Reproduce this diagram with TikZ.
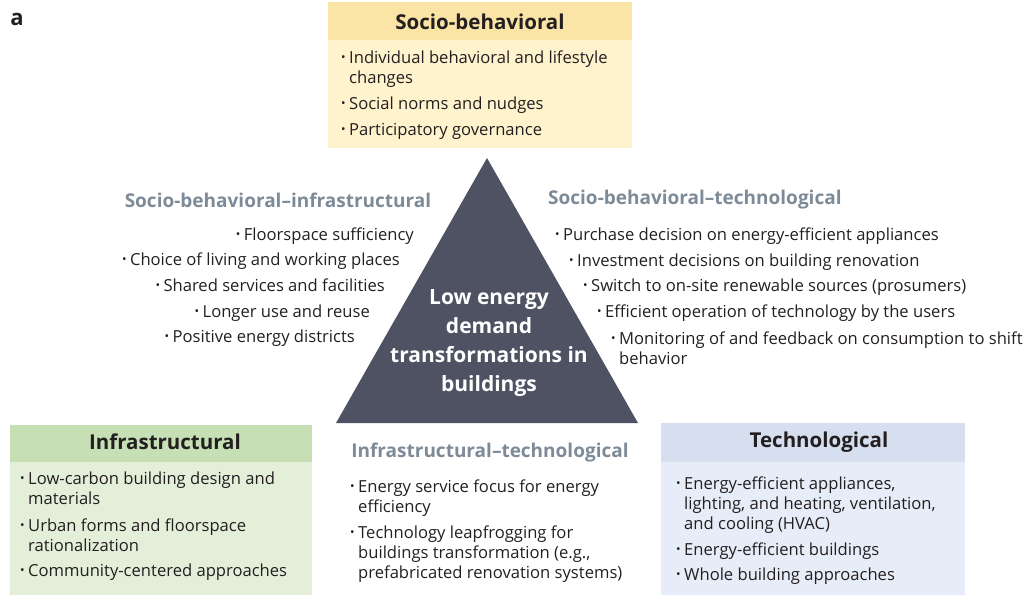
\documentclass[tikz,border=0pt]{standalone}
\usepackage{fontspec}
\setmainfont{Open Sans}
\definecolor{yhead}{HTML}{FBE5A6}
\definecolor{ybody}{HTML}{FEF3CD}
\definecolor{ghead}{HTML}{C6DFB5}
\definecolor{gbody}{HTML}{E3EFD9}
\definecolor{bhead}{HTML}{D6DFEF}
\definecolor{bbody}{HTML}{E7EDF8}
\definecolor{tri}{HTML}{4F5262}
\definecolor{subhead}{HTML}{7D8A97}
\definecolor{txt}{HTML}{231F20}
\newcommand\bu{\makebox[8pt][l]{\raisebox{0.12ex}{\fontsize{12}{12}\selectfont\textbullet}}}
\newcommand\ind{\hspace*{8pt}}
\tikzset{
  bl/.style={anchor=base west, inner sep=0pt, align=left, text=txt, font=\fontsize{16.6}{20}\selectfont},
  br/.style={anchor=base east, inner sep=0pt, align=left, text=txt, font=\fontsize{16.6}{20}\selectfont},
  boxtitle/.style={inner sep=0pt, text=txt, font=\fontsize{20.5}{24}\selectfont\bfseries},
  subtitle/.style={inner sep=0pt, text=subhead, font=\fontsize{19}{24}\selectfont\bfseries},
}
\begin{document}
\begin{tikzpicture}[x=1pt,y=-1pt]
\useasboundingbox (0,0) rectangle (1030,597);
% label a
\node[inner sep=0pt, font=\fontsize{22}{24}\selectfont\bfseries, text=txt] (lbl) at (17,19) {a};
% top box
\fill[ybody] (328,2) rectangle (632,148);
\fill[yhead] (328,2) rectangle (632,40);
\node[boxtitle] (ttop) at (480,22) {Socio-behavioral};
\node[bl] (t1) at (341,83) {\bu Individual behavioral and lifestyle\\\ind changes};
\node[bl] (t2) at (341,109) {\bu Social norms and nudges};
\node[bl] (t3) at (341,135) {\bu Participatory governance};
% triangle
\fill[tri] (487,158) coordinate (apex) -- (336,423) coordinate (bl) -- (638,423) coordinate (brc) -- cycle;
\node[inner sep=0pt, align=center, text=white, font=\fontsize{21}{29}\selectfont\bfseries] (center) at (489,343)
  {Low energy\\demand\\transformations in\\buildings};
% left box
\fill[gbody] (10,425) rectangle (312,595);
\fill[ghead] (10,425) rectangle (312,462);
\node[boxtitle] (tleft) at (165,442) {Infrastructural};
\node[bl] (l1) at (20,504) {\bu Low-carbon building design and\\\ind materials};
\node[bl] (l2) at (20,551) {\bu Urban forms and floorspace\\\ind rationalization};
\node[bl] (l3) at (20,576) {\bu Community-centered approaches};
% right box
\fill[bbody] (661,423) rectangle (965,595);
\fill[bhead] (661,423) rectangle (965,462);
\node[boxtitle] (tright) at (819,442) {Technological};
\node[bl] (r1) at (676,529) {\bu Energy-efficient appliances,\\\ind lighting, and heating, ventilation,\\\ind and cooling (HVAC)};
\node[bl] (r2) at (676,555) {\bu Energy-efficient buildings};
\node[bl] (r3) at (676,580) {\bu Whole building approaches};
% middle bottom
\node[subtitle] (hmid) at (490,453) {Infrastructural–technological};
\node[bl] (m1) at (350,512) {\bu Energy service focus for energy\\\ind efficiency};
\node[bl] (m2) at (350,578) {\bu Technology leapfrogging for\\\ind buildings transformation (e.g.,\\\ind prefabricated renovation systems)};
% left middle
\node[subtitle] (hsbi) at (278,200) {Socio-behavioral–infrastructural};
\node[br] (sl1) at (414,240) {\bu Floorspace sufficiency};
\node[br] (sl2) at (400,265) {\bu Choice of living and working places};
\node[br] (sl3) at (385,291) {\bu Shared services and facilities};
\node[br] (sl4) at (370,317) {\bu Longer use and reuse};
\node[br] (sl5) at (355,342) {\bu Positive energy districts};
% right middle
\node[subtitle, anchor=west] (hsbt) at (548,200) {Socio-behavioral–technological};
\node[bl] (sr1) at (555,240) {\bu Purchase decision on energy-efficient appliances};
\node[bl] (sr2) at (569,266) {\bu Investment decisions on building renovation};
\node[bl] (sr3) at (583,291) {\bu Switch to on-site renewable sources (prosumers)};
\node[bl] (sr4) at (597,317) {\bu Efficient operation of technology by the users};
\node[bl] (sr5) at (611,364) {\bu Monitoring of and feedback on consumption to shift\\\ind behavior};
\end{tikzpicture}
\end{document}
